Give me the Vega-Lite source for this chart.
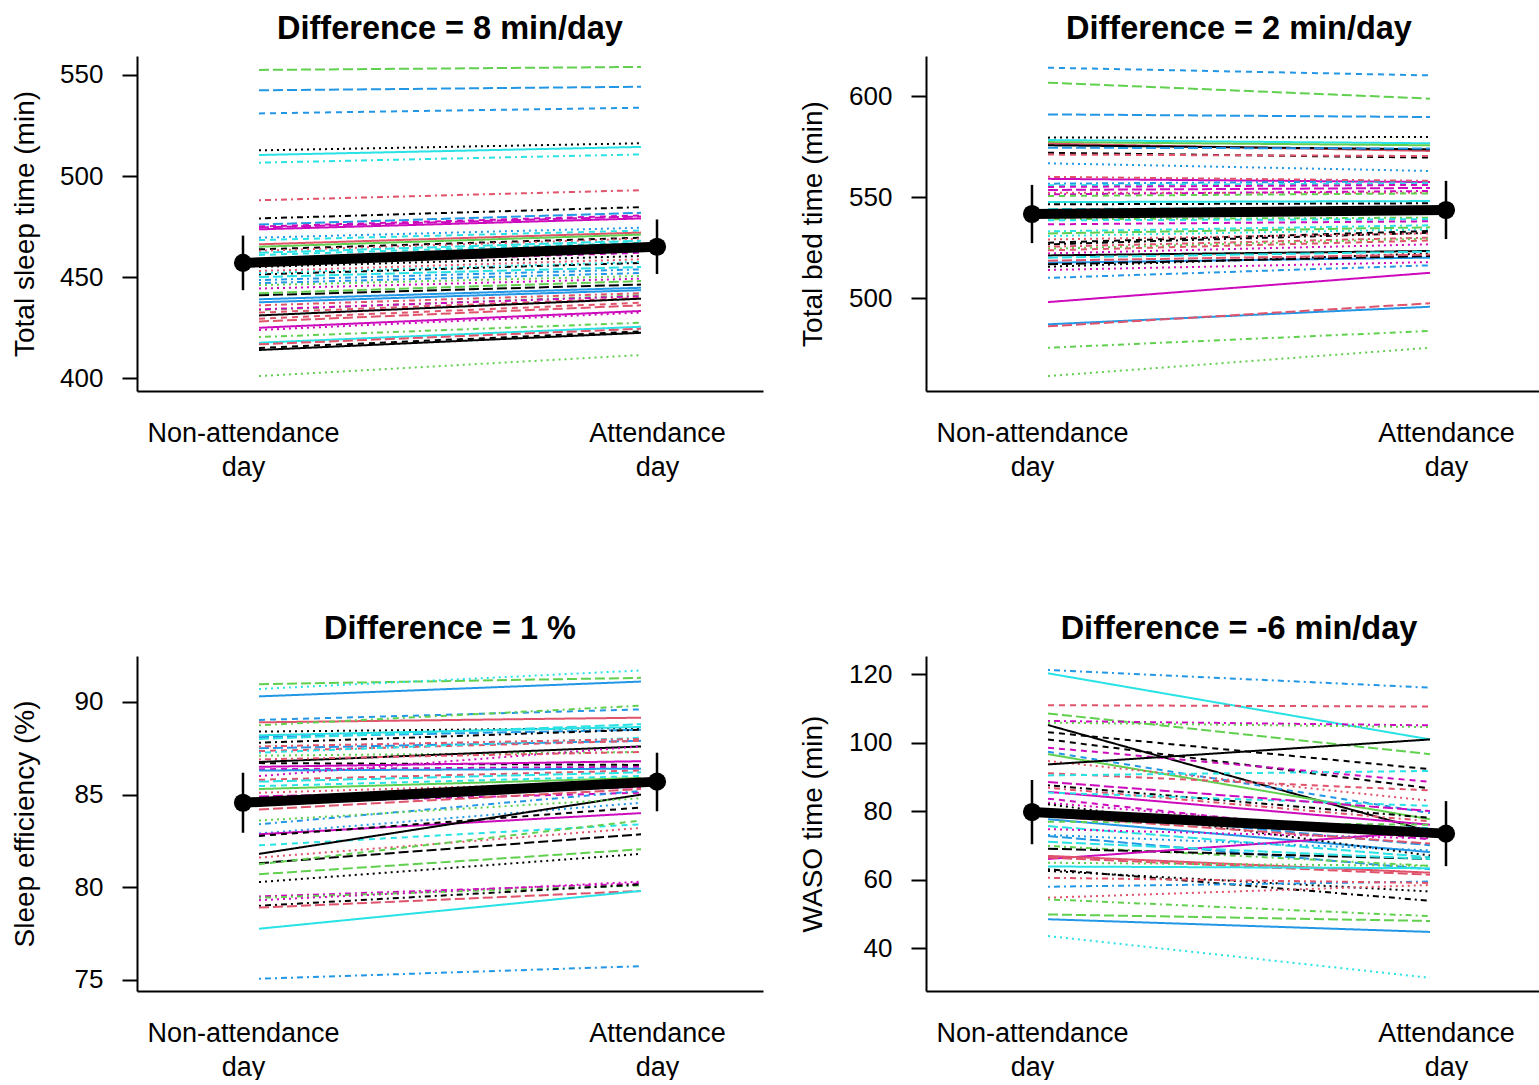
{
"$schema": "https://vega.github.io/schema/vega-lite/v6.json",
"background": "white",
"padding": {"left": 11, "top": 12, "right": 0, "bottom": 0},
"config": {
  "view": {"stroke": null},
  "font": "Liberation Sans",
  "axis": {"grid": false, "labelFont": "Liberation Sans", "titleFont": "Liberation Sans", "labelColor": "black", "titleColor": "black", "domainColor": "black", "tickColor": "black", "labelLimit": 500}
},
"datasets": {
"tst": [
{"s":15,"day":1,"v":552.5},{"s":15,"day":2,"v":554},
{"s":10,"day":1,"v":542.4},{"s":10,"day":2,"v":544.2},
{"s":22,"day":1,"v":531},{"s":22,"day":2,"v":533.8},
{"s":13,"day":1,"v":512.7},{"s":13,"day":2,"v":516.2},
{"s":11,"day":1,"v":510.4},{"s":11,"day":2,"v":514.4},
{"s":29,"day":1,"v":506.6},{"s":29,"day":2,"v":510.7},
{"s":14,"day":1,"v":488},{"s":14,"day":2,"v":493},
{"s":19,"day":1,"v":479},{"s":19,"day":2,"v":484.6},
{"s":40,"day":1,"v":476},{"s":40,"day":2,"v":481.8},
{"s":12,"day":1,"v":475},{"s":12,"day":2,"v":480.5},
{"s":6,"day":1,"v":473.6},{"s":6,"day":2,"v":479},
{"s":28,"day":1,"v":469.5},{"s":28,"day":2,"v":474.4},
{"s":17,"day":1,"v":468.3},{"s":17,"day":2,"v":473},
{"s":26,"day":1,"v":466.2},{"s":26,"day":2,"v":472},
{"s":21,"day":1,"v":465},{"s":21,"day":2,"v":471},
{"s":7,"day":1,"v":463.7},{"s":7,"day":2,"v":469.5},
{"s":8,"day":1,"v":463},{"s":8,"day":2,"v":469},
{"s":47,"day":1,"v":460.9},{"s":47,"day":2,"v":467},
{"s":42,"day":1,"v":456.3},{"s":42,"day":2,"v":462},
{"s":43,"day":1,"v":455},{"s":43,"day":2,"v":460.4},
{"s":38,"day":1,"v":453},{"s":38,"day":2,"v":458.8},
{"s":49,"day":1,"v":451.3},{"s":49,"day":2,"v":457},
{"s":5,"day":1,"v":450},{"s":5,"day":2,"v":455},
{"s":4,"day":1,"v":448.5},{"s":4,"day":2,"v":453.8},
{"s":3,"day":1,"v":446},{"s":3,"day":2,"v":450.5},
{"s":18,"day":1,"v":444.3},{"s":18,"day":2,"v":449.2},
{"s":25,"day":1,"v":441},{"s":25,"day":2,"v":446.3},
{"s":16,"day":1,"v":439},{"s":16,"day":2,"v":444.7},
{"s":9,"day":1,"v":433.7},{"s":9,"day":2,"v":441},
{"s":24,"day":1,"v":434},{"s":24,"day":2,"v":440.5},
{"s":2,"day":1,"v":432.4},{"s":2,"day":2,"v":439.6},
{"s":1,"day":1,"v":431},{"s":1,"day":2,"v":439.3},
{"s":32,"day":1,"v":429.4},{"s":32,"day":2,"v":437.3},
{"s":36,"day":1,"v":424.9},{"s":36,"day":2,"v":433.2},
{"s":48,"day":1,"v":423.8},{"s":48,"day":2,"v":432.4},
{"s":39,"day":1,"v":420.3},{"s":39,"day":2,"v":427.4},
{"s":41,"day":1,"v":417.5},{"s":41,"day":2,"v":425.4},
{"s":20,"day":1,"v":416.7},{"s":20,"day":2,"v":424.4},
{"s":37,"day":1,"v":414.9},{"s":37,"day":2,"v":423.1},
{"s":31,"day":1,"v":413.9},{"s":31,"day":2,"v":422.4},
{"s":33,"day":1,"v":401},{"s":33,"day":2,"v":411.4},
{"s":23,"day":1,"v":452},{"s":23,"day":2,"v":457.5},
{"s":27,"day":1,"v":459},{"s":27,"day":2,"v":465},
{"s":30,"day":1,"v":474.5},{"s":30,"day":2,"v":480},
{"s":34,"day":1,"v":447},{"s":34,"day":2,"v":452},
{"s":35,"day":1,"v":462},{"s":35,"day":2,"v":468},
{"s":44,"day":1,"v":436},{"s":44,"day":2,"v":442},
{"s":45,"day":1,"v":442},{"s":45,"day":2,"v":448},
{"s":46,"day":1,"v":437.5},{"s":46,"day":2,"v":443.5},
{"s":50,"day":1,"v":428},{"s":50,"day":2,"v":436}
],
"tbt": [
{"s":22,"day":1,"v":614},{"s":22,"day":2,"v":610.2},
{"s":15,"day":1,"v":606.6},{"s":15,"day":2,"v":598.7},
{"s":10,"day":1,"v":590.9},{"s":10,"day":2,"v":589.6},
{"s":13,"day":1,"v":579.4},{"s":13,"day":2,"v":579.7},
{"s":11,"day":1,"v":578.2},{"s":11,"day":2,"v":576.6},
{"s":21,"day":1,"v":577.2},{"s":21,"day":2,"v":575.6},
{"s":26,"day":1,"v":576.4},{"s":26,"day":2,"v":572.8},
{"s":1,"day":1,"v":575.6},{"s":1,"day":2,"v":573.6},
{"s":40,"day":1,"v":574.4},{"s":40,"day":2,"v":574},
{"s":7,"day":1,"v":571.9},{"s":7,"day":2,"v":569.5},
{"s":2,"day":1,"v":571},{"s":2,"day":2,"v":570.3},
{"s":28,"day":1,"v":566.7},{"s":28,"day":2,"v":562.9},
{"s":6,"day":1,"v":559},{"s":6,"day":2,"v":557.4},
{"s":4,"day":1,"v":556.6},{"s":4,"day":2,"v":557.9},
{"s":17,"day":1,"v":555.8},{"s":17,"day":2,"v":556.8},
{"s":8,"day":1,"v":552.1},{"s":8,"day":2,"v":552.1},
{"s":24,"day":1,"v":551.3},{"s":24,"day":2,"v":553},
{"s":27,"day":1,"v":550.5},{"s":27,"day":2,"v":551.8},
{"s":19,"day":1,"v":546.4},{"s":19,"day":2,"v":546.9},
{"s":9,"day":1,"v":539},{"s":9,"day":2,"v":539.8},
{"s":47,"day":1,"v":538.5},{"s":47,"day":2,"v":539},
{"s":12,"day":1,"v":536.5},{"s":12,"day":2,"v":538},
{"s":23,"day":1,"v":530.7},{"s":23,"day":2,"v":534},
{"s":37,"day":1,"v":527.4},{"s":37,"day":2,"v":533.2},
{"s":49,"day":1,"v":526.6},{"s":49,"day":2,"v":532.3},
{"s":14,"day":1,"v":525.4},{"s":14,"day":2,"v":529.9},
{"s":3,"day":1,"v":524.4},{"s":3,"day":2,"v":529.4},
{"s":32,"day":1,"v":523.6},{"s":32,"day":2,"v":528.5},
{"s":18,"day":1,"v":522.1},{"s":18,"day":2,"v":526.6},
{"s":31,"day":1,"v":521.1},{"s":31,"day":2,"v":523.3},
{"s":16,"day":1,"v":517.5},{"s":16,"day":2,"v":520},
{"s":25,"day":1,"v":516.7},{"s":25,"day":2,"v":520.8},
{"s":43,"day":1,"v":515.5},{"s":43,"day":2,"v":522.1},
{"s":48,"day":1,"v":513.9},{"s":48,"day":2,"v":517.8},
{"s":34,"day":1,"v":510},{"s":34,"day":2,"v":516.2},
{"s":36,"day":1,"v":498},{"s":36,"day":2,"v":512.5},
{"s":46,"day":1,"v":487},{"s":46,"day":2,"v":495.7},
{"s":20,"day":1,"v":486},{"s":20,"day":2,"v":497.4},
{"s":39,"day":1,"v":475.4},{"s":39,"day":2,"v":483.7},
{"s":33,"day":1,"v":461.4},{"s":33,"day":2,"v":475.4},
{"s":5,"day":1,"v":544},{"s":5,"day":2,"v":545},
{"s":29,"day":1,"v":533},{"s":29,"day":2,"v":536},
{"s":30,"day":1,"v":553.5},{"s":30,"day":2,"v":554.5},
{"s":35,"day":1,"v":520},{"s":35,"day":2,"v":523},
{"s":38,"day":1,"v":529},{"s":38,"day":2,"v":532},
{"s":41,"day":1,"v":547.5},{"s":41,"day":2,"v":548},
{"s":42,"day":1,"v":555},{"s":42,"day":2,"v":556},
{"s":44,"day":1,"v":560},{"s":44,"day":2,"v":558},
{"s":45,"day":1,"v":532},{"s":45,"day":2,"v":535},
{"s":50,"day":1,"v":518.5},{"s":50,"day":2,"v":521.5}
],
"se": [
{"s":15,"day":1,"v":90.96},{"s":15,"day":2,"v":91.3},
{"s":23,"day":1,"v":90.7},{"s":23,"day":2,"v":91.7},
{"s":16,"day":1,"v":90.3},{"s":16,"day":2,"v":91.1},
{"s":22,"day":1,"v":89.03},{"s":22,"day":2,"v":89.6},
{"s":26,"day":1,"v":88.9},{"s":26,"day":2,"v":89.15},
{"s":9,"day":1,"v":88.74},{"s":9,"day":2,"v":89.8},
{"s":13,"day":1,"v":88.4},{"s":13,"day":2,"v":88.6},
{"s":11,"day":1,"v":88.2},{"s":11,"day":2,"v":88.65},
{"s":10,"day":1,"v":88.1},{"s":10,"day":2,"v":88.5},
{"s":19,"day":1,"v":87.8},{"s":19,"day":2,"v":88.5},
{"s":40,"day":1,"v":87.5},{"s":40,"day":2,"v":87.9},
{"s":2,"day":1,"v":87.35},{"s":2,"day":2,"v":87.9},
{"s":29,"day":1,"v":87.26},{"s":29,"day":2,"v":88.07},
{"s":3,"day":1,"v":87.1},{"s":3,"day":2,"v":87.3},
{"s":1,"day":1,"v":86.76},{"s":1,"day":2,"v":87.6},
{"s":7,"day":1,"v":86.7},{"s":7,"day":2,"v":86.6},
{"s":12,"day":1,"v":86.37},{"s":12,"day":2,"v":86.5},
{"s":46,"day":1,"v":86.3},{"s":46,"day":2,"v":86.4},
{"s":18,"day":1,"v":86},{"s":18,"day":2,"v":87.6},
{"s":32,"day":1,"v":85.8},{"s":32,"day":2,"v":86.3},
{"s":17,"day":1,"v":85.46},{"s":17,"day":2,"v":86},
{"s":21,"day":1,"v":85.3},{"s":21,"day":2,"v":85.9},
{"s":8,"day":1,"v":85.1},{"s":8,"day":2,"v":85.7},
{"s":42,"day":1,"v":84.56},{"s":42,"day":2,"v":85.1},
{"s":34,"day":1,"v":83.4},{"s":34,"day":2,"v":85.2},
{"s":28,"day":1,"v":82.9},{"s":28,"day":2,"v":84.56},
{"s":6,"day":1,"v":82.86},{"s":6,"day":2,"v":84},
{"s":37,"day":1,"v":82.77},{"s":37,"day":2,"v":84.3},
{"s":47,"day":1,"v":82.26},{"s":47,"day":2,"v":83.4},
{"s":31,"day":1,"v":81.8},{"s":31,"day":2,"v":85},
{"s":38,"day":1,"v":81.6},{"s":38,"day":2,"v":83.2},
{"s":25,"day":1,"v":81.3},{"s":25,"day":2,"v":82.86},
{"s":27,"day":1,"v":81.24},{"s":27,"day":2,"v":83.6},
{"s":45,"day":1,"v":80.7},{"s":45,"day":2,"v":82.05},
{"s":43,"day":1,"v":80.28},{"s":43,"day":2,"v":81.8},
{"s":24,"day":1,"v":79.5},{"s":24,"day":2,"v":80.2},
{"s":39,"day":1,"v":79.43},{"s":39,"day":2,"v":80.1},
{"s":49,"day":1,"v":79},{"s":49,"day":2,"v":80.15},
{"s":20,"day":1,"v":78.9},{"s":20,"day":2,"v":79.8},
{"s":41,"day":1,"v":77.76},{"s":41,"day":2,"v":79.8},
{"s":4,"day":1,"v":75.06},{"s":4,"day":2,"v":75.74},
{"s":5,"day":1,"v":88},{"s":5,"day":2,"v":88.8},
{"s":14,"day":1,"v":86.9},{"s":14,"day":2,"v":87.3},
{"s":30,"day":1,"v":84.9},{"s":30,"day":2,"v":85.4},
{"s":33,"day":1,"v":83.6},{"s":33,"day":2,"v":84.8},
{"s":35,"day":1,"v":85.7},{"s":35,"day":2,"v":86.2},
{"s":36,"day":1,"v":86.5},{"s":36,"day":2,"v":86.8},
{"s":44,"day":1,"v":87.6},{"s":44,"day":2,"v":88},
{"s":48,"day":1,"v":79.3},{"s":48,"day":2,"v":80.3},
{"s":50,"day":1,"v":84.2},{"s":50,"day":2,"v":85.3}
],
"waso": [
{"s":4,"day":1,"v":121.2},{"s":4,"day":2,"v":116},
{"s":11,"day":1,"v":120.2},{"s":11,"day":2,"v":100.9},
{"s":2,"day":1,"v":110.9},{"s":2,"day":2,"v":110.5},
{"s":15,"day":1,"v":108.5},{"s":15,"day":2,"v":96.6},
{"s":24,"day":1,"v":106.3},{"s":24,"day":2,"v":105},
{"s":3,"day":1,"v":105.8},{"s":3,"day":2,"v":104.5},
{"s":1,"day":1,"v":105.1},{"s":1,"day":2,"v":74},
{"s":7,"day":1,"v":103},{"s":7,"day":2,"v":92.2},
{"s":37,"day":1,"v":100.9},{"s":37,"day":2,"v":86.6},
{"s":12,"day":1,"v":98.5},{"s":12,"day":2,"v":88.5},
{"s":22,"day":1,"v":97.3},{"s":22,"day":2,"v":79.4},
{"s":21,"day":1,"v":96.6},{"s":21,"day":2,"v":77.6},
{"s":8,"day":1,"v":94.6},{"s":8,"day":2,"v":83},
{"s":31,"day":1,"v":93.6},{"s":31,"day":2,"v":100.9},
{"s":32,"day":1,"v":91},{"s":32,"day":2,"v":86},
{"s":17,"day":1,"v":90.4},{"s":17,"day":2,"v":91.7},
{"s":19,"day":1,"v":87.5},{"s":19,"day":2,"v":78},
{"s":14,"day":1,"v":86.8},{"s":14,"day":2,"v":77},
{"s":6,"day":1,"v":85.6},{"s":6,"day":2,"v":76},
{"s":47,"day":1,"v":85.4},{"s":47,"day":2,"v":81.5},
{"s":42,"day":1,"v":83.6},{"s":42,"day":2,"v":71.7},
{"s":48,"day":1,"v":82.4},{"s":48,"day":2,"v":73},
{"s":16,"day":1,"v":77.6},{"s":16,"day":2,"v":68},
{"s":27,"day":1,"v":76.9},{"s":27,"day":2,"v":76},
{"s":5,"day":1,"v":75.6},{"s":5,"day":2,"v":66.5},
{"s":18,"day":1,"v":74.7},{"s":18,"day":2,"v":72},
{"s":40,"day":1,"v":72.7},{"s":40,"day":2,"v":63},
{"s":9,"day":1,"v":69.8},{"s":9,"day":2,"v":64},
{"s":25,"day":1,"v":69},{"s":25,"day":2,"v":66},
{"s":36,"day":1,"v":66},{"s":36,"day":2,"v":74},
{"s":26,"day":1,"v":66.9},{"s":26,"day":2,"v":62},
{"s":20,"day":1,"v":66.4},{"s":20,"day":2,"v":61.4},
{"s":33,"day":1,"v":64.9},{"s":33,"day":2,"v":64},
{"s":41,"day":1,"v":63.8},{"s":41,"day":2,"v":63.3},
{"s":49,"day":1,"v":63},{"s":49,"day":2,"v":53.8},
{"s":13,"day":1,"v":62.5},{"s":13,"day":2,"v":56.5},
{"s":34,"day":1,"v":57.9},{"s":34,"day":2,"v":59.4},
{"s":38,"day":1,"v":54.7},{"s":38,"day":2,"v":58.4},
{"s":39,"day":1,"v":54.2},{"s":39,"day":2,"v":49.3},
{"s":45,"day":1,"v":49.8},{"s":45,"day":2,"v":47.9},
{"s":46,"day":1,"v":48.4},{"s":46,"day":2,"v":44.7},
{"s":23,"day":1,"v":43.5},{"s":23,"day":2,"v":31.3},
{"s":10,"day":1,"v":80.5},{"s":10,"day":2,"v":70},
{"s":28,"day":1,"v":73},{"s":28,"day":2,"v":68.5},
{"s":29,"day":1,"v":79},{"s":29,"day":2,"v":75},
{"s":30,"day":1,"v":88.5},{"s":30,"day":2,"v":80},
{"s":35,"day":1,"v":71},{"s":35,"day":2,"v":66},
{"s":43,"day":1,"v":82},{"s":43,"day":2,"v":67},
{"s":44,"day":1,"v":60.5},{"s":44,"day":2,"v":59},
{"s":50,"day":1,"v":78.5},{"s":50,"day":2,"v":70.5}
],
"m_tst": [{"day":1,"v":457,"lo":443.5,"hi":470.5},{"day":2,"v":465,"lo":451.5,"hi":478.5}],
"m_tbt": [{"day":1,"v":541.6,"lo":527.2,"hi":556},{"day":2,"v":543.6,"lo":529.2,"hi":558}],
"m_se": [{"day":1,"v":84.56,"lo":82.94,"hi":86.18},{"day":2,"v":85.7,"lo":84.1,"hi":87.26}],
"m_waso": [{"day":1,"v":79.7,"lo":70.3,"hi":89.05},{"day":2,"v":73.4,"lo":63.9,"hi":82.9}]
},
"spacing": 600,
"bounds": "flush",
"vconcat": [
{"spacing": 163, "bounds": "flush", "hconcat": [
 {"width": 626, "height": 335,
  "title": {"text": "Difference = 8 min/day", "fontSize": 32.5, "fontWeight": "bold", "font": "Liberation Sans", "anchor": "middle", "frame": "group", "baseline": "alphabetic", "offset": -15, "color": "black"},
  "layer": [
   {"data": {"name": "tst"}, "mark": {"type": "line", "strokeWidth": 2, "strokeCap": "butt"},
    "encoding": {
     "x": {"field": "day", "type": "quantitative", "scale": {"domain": [0.6806, 2.3194], "nice": false, "zero": false}, "axis": null},
     "y": {"field": "v", "type": "quantitative", "title": "Total sleep time (min)", "scale": {"domain": [393.6, 559.4], "nice": false, "zero": false},
           "axis": {"values": [400, 450, 500, 550], "tickSize": 15, "tickWidth": 2, "domainWidth": 2, "labelFontSize": 26, "labelPadding": 19, "labelBaseline": "middle", "titleFontSize": 28, "titleFontWeight": "normal", "titleX": -112, "titleY": 167.5, "titleBaseline": "middle", "titleAngle": 270}},
     "color": {"field": "s", "type": "nominal", "legend": null, "scale": {"domain": [1,2,3,4,5,6,7,8,9,10,11,12,13,14,15,16,17,18,19,20,21,22,23,24,25,26,27,28,29,30,31,32,33,34,35,36,37,38,39,40,41,42,43,44,45,46,47,48,49,50], "range": ["#000000","#DF536B","#61D04F","#2297E6","#28E2E5","#CD0BBC","#000000","#DF536B","#61D04F","#2297E6","#28E2E5","#CD0BBC","#000000","#DF536B","#61D04F","#2297E6","#28E2E5","#CD0BBC","#000000","#DF536B","#61D04F","#2297E6","#28E2E5","#CD0BBC","#000000","#DF536B","#61D04F","#2297E6","#28E2E5","#CD0BBC","#000000","#DF536B","#61D04F","#2297E6","#28E2E5","#CD0BBC","#000000","#DF536B","#61D04F","#2297E6","#28E2E5","#CD0BBC","#000000","#DF536B","#61D04F","#2297E6","#28E2E5","#CD0BBC","#000000","#DF536B"]}},
     "strokeDash": {"field": "s", "type": "nominal", "legend": null, "scale": {"domain": [1,2,3,4,5,6,7,8,9,10,11,12,13,14,15,16,17,18,19,20,21,22,23,24,25,26,27,28,29,30,31,32,33,34,35,36,37,38,39,40,41,42,43,44,45,46,47,48,49,50], "range": [[1,0],[6,5],[2,4],[2,4,6,4],[10,4],[1,0],[6,5],[2,4],[2,4,6,4],[10,4],[1,0],[6,5],[2,4],[2,4,6,4],[10,4],[1,0],[6,5],[2,4],[2,4,6,4],[10,4],[1,0],[6,5],[2,4],[2,4,6,4],[10,4],[1,0],[6,5],[2,4],[2,4,6,4],[10,4],[1,0],[6,5],[2,4],[2,4,6,4],[10,4],[1,0],[6,5],[2,4],[2,4,6,4],[10,4],[1,0],[6,5],[2,4],[2,4,6,4],[10,4],[1,0],[6,5],[2,4],[2,4,6,4],[10,4]]}}
    }},
   {"data": {"name": "m_tst"},
    "encoding": {"x": {"field": "day", "type": "quantitative", "scale": {"domain": [0.744, 2.256], "nice": false, "zero": false},
       "axis": {"values": [1, 2], "labelExpr": "datum.value == 1 ? ['Non-attendance', 'day'] : ['Attendance', 'day']", "ticks": false, "tickSize": 0, "title": null, "domainWidth": 2, "labelFontSize": 27, "labelPadding": 29, "labelLineHeight": 34, "labelBaseline": "top", "labelFlush": false, "labelOverlap": false}}},
    "layer": [
     {"mark": {"type": "line", "color": "black", "strokeWidth": 10}, "encoding": {"y": {"field": "v", "type": "quantitative", "title": "Total sleep time (min)", "scale": {"domain": [393.6, 559.4], "nice": false, "zero": false}}}},
     {"mark": {"type": "rule", "color": "black", "strokeWidth": 2.5}, "encoding": {"y": {"field": "lo", "type": "quantitative", "title": "Total sleep time (min)", "scale": {"domain": [393.6, 559.4], "nice": false, "zero": false}}, "y2": {"field": "hi"}}},
     {"mark": {"type": "point", "shape": "circle", "filled": true, "color": "black", "opacity": 1, "size": 330}, "encoding": {"y": {"field": "v", "type": "quantitative", "title": "Total sleep time (min)", "scale": {"domain": [393.6, 559.4], "nice": false, "zero": false}}}}
    ]}
  ],
  "resolve": {"scale": {"x": "independent"}}
 },
 {"width": 626, "height": 335,
  "title": {"text": "Difference = 2 min/day", "fontSize": 32.5, "fontWeight": "bold", "font": "Liberation Sans", "anchor": "middle", "frame": "group", "baseline": "alphabetic", "offset": -15, "color": "black"},
  "layer": [
   {"data": {"name": "tbt"}, "mark": {"type": "line", "strokeWidth": 2, "strokeCap": "butt"},
    "encoding": {
     "x": {"field": "day", "type": "quantitative", "scale": {"domain": [0.6806, 2.3194], "nice": false, "zero": false}, "axis": null},
     "y": {"field": "v", "type": "quantitative", "title": "Total bed time (min)", "scale": {"domain": [454, 619.8], "nice": false, "zero": false},
           "axis": {"values": [500, 550, 600], "tickSize": 15, "tickWidth": 2, "domainWidth": 2, "labelFontSize": 26, "labelPadding": 19, "labelBaseline": "middle", "titleFontSize": 28, "titleFontWeight": "normal", "titleX": -113, "titleY": 167.5, "titleBaseline": "middle", "titleAngle": 270}},
     "color": {"field": "s", "type": "nominal", "legend": null, "scale": {"domain": [1,2,3,4,5,6,7,8,9,10,11,12,13,14,15,16,17,18,19,20,21,22,23,24,25,26,27,28,29,30,31,32,33,34,35,36,37,38,39,40,41,42,43,44,45,46,47,48,49,50], "range": ["#000000","#DF536B","#61D04F","#2297E6","#28E2E5","#CD0BBC","#000000","#DF536B","#61D04F","#2297E6","#28E2E5","#CD0BBC","#000000","#DF536B","#61D04F","#2297E6","#28E2E5","#CD0BBC","#000000","#DF536B","#61D04F","#2297E6","#28E2E5","#CD0BBC","#000000","#DF536B","#61D04F","#2297E6","#28E2E5","#CD0BBC","#000000","#DF536B","#61D04F","#2297E6","#28E2E5","#CD0BBC","#000000","#DF536B","#61D04F","#2297E6","#28E2E5","#CD0BBC","#000000","#DF536B","#61D04F","#2297E6","#28E2E5","#CD0BBC","#000000","#DF536B"]}},
     "strokeDash": {"field": "s", "type": "nominal", "legend": null, "scale": {"domain": [1,2,3,4,5,6,7,8,9,10,11,12,13,14,15,16,17,18,19,20,21,22,23,24,25,26,27,28,29,30,31,32,33,34,35,36,37,38,39,40,41,42,43,44,45,46,47,48,49,50], "range": [[1,0],[6,5],[2,4],[2,4,6,4],[10,4],[1,0],[6,5],[2,4],[2,4,6,4],[10,4],[1,0],[6,5],[2,4],[2,4,6,4],[10,4],[1,0],[6,5],[2,4],[2,4,6,4],[10,4],[1,0],[6,5],[2,4],[2,4,6,4],[10,4],[1,0],[6,5],[2,4],[2,4,6,4],[10,4],[1,0],[6,5],[2,4],[2,4,6,4],[10,4],[1,0],[6,5],[2,4],[2,4,6,4],[10,4],[1,0],[6,5],[2,4],[2,4,6,4],[10,4],[1,0],[6,5],[2,4],[2,4,6,4],[10,4]]}}
    }},
   {"data": {"name": "m_tbt"},
    "encoding": {"x": {"field": "day", "type": "quantitative", "scale": {"domain": [0.744, 2.256], "nice": false, "zero": false},
       "axis": {"values": [1, 2], "labelExpr": "datum.value == 1 ? ['Non-attendance', 'day'] : ['Attendance', 'day']", "ticks": false, "tickSize": 0, "title": null, "domainWidth": 2, "labelFontSize": 27, "labelPadding": 29, "labelLineHeight": 34, "labelBaseline": "top", "labelFlush": false, "labelOverlap": false}}},
    "layer": [
     {"mark": {"type": "line", "color": "black", "strokeWidth": 10}, "encoding": {"y": {"field": "v", "type": "quantitative", "title": "Total bed time (min)", "scale": {"domain": [454, 619.8], "nice": false, "zero": false}}}},
     {"mark": {"type": "rule", "color": "black", "strokeWidth": 2.5}, "encoding": {"y": {"field": "lo", "type": "quantitative", "title": "Total bed time (min)", "scale": {"domain": [454, 619.8], "nice": false, "zero": false}}, "y2": {"field": "hi"}}},
     {"mark": {"type": "point", "shape": "circle", "filled": true, "color": "black", "opacity": 1, "size": 330}, "encoding": {"y": {"field": "v", "type": "quantitative", "title": "Total bed time (min)", "scale": {"domain": [454, 619.8], "nice": false, "zero": false}}}}
    ]}
  ],
  "resolve": {"scale": {"x": "independent"}}
 }
]},
{"spacing": 163, "bounds": "flush", "hconcat": [
 {"width": 626, "height": 335,
  "title": {"text": "Difference = 1 %", "fontSize": 32.5, "fontWeight": "bold", "font": "Liberation Sans", "anchor": "middle", "frame": "group", "baseline": "alphabetic", "offset": -15, "color": "black"},
  "layer": [
   {"data": {"name": "se"}, "mark": {"type": "line", "strokeWidth": 2, "strokeCap": "butt"},
    "encoding": {
     "x": {"field": "day", "type": "quantitative", "scale": {"domain": [0.6806, 2.3194], "nice": false, "zero": false}, "axis": null},
     "y": {"field": "v", "type": "quantitative", "title": "Sleep efficiency (%)", "scale": {"domain": [74.4, 92.48], "nice": false, "zero": false},
           "axis": {"values": [75, 80, 85, 90], "tickSize": 15, "tickWidth": 2, "domainWidth": 2, "labelFontSize": 26, "labelPadding": 19, "labelBaseline": "middle", "titleFontSize": 28, "titleFontWeight": "normal", "titleX": -112, "titleY": 167.5, "titleBaseline": "middle", "titleAngle": 270}},
     "color": {"field": "s", "type": "nominal", "legend": null, "scale": {"domain": [1,2,3,4,5,6,7,8,9,10,11,12,13,14,15,16,17,18,19,20,21,22,23,24,25,26,27,28,29,30,31,32,33,34,35,36,37,38,39,40,41,42,43,44,45,46,47,48,49,50], "range": ["#000000","#DF536B","#61D04F","#2297E6","#28E2E5","#CD0BBC","#000000","#DF536B","#61D04F","#2297E6","#28E2E5","#CD0BBC","#000000","#DF536B","#61D04F","#2297E6","#28E2E5","#CD0BBC","#000000","#DF536B","#61D04F","#2297E6","#28E2E5","#CD0BBC","#000000","#DF536B","#61D04F","#2297E6","#28E2E5","#CD0BBC","#000000","#DF536B","#61D04F","#2297E6","#28E2E5","#CD0BBC","#000000","#DF536B","#61D04F","#2297E6","#28E2E5","#CD0BBC","#000000","#DF536B","#61D04F","#2297E6","#28E2E5","#CD0BBC","#000000","#DF536B"]}},
     "strokeDash": {"field": "s", "type": "nominal", "legend": null, "scale": {"domain": [1,2,3,4,5,6,7,8,9,10,11,12,13,14,15,16,17,18,19,20,21,22,23,24,25,26,27,28,29,30,31,32,33,34,35,36,37,38,39,40,41,42,43,44,45,46,47,48,49,50], "range": [[1,0],[6,5],[2,4],[2,4,6,4],[10,4],[1,0],[6,5],[2,4],[2,4,6,4],[10,4],[1,0],[6,5],[2,4],[2,4,6,4],[10,4],[1,0],[6,5],[2,4],[2,4,6,4],[10,4],[1,0],[6,5],[2,4],[2,4,6,4],[10,4],[1,0],[6,5],[2,4],[2,4,6,4],[10,4],[1,0],[6,5],[2,4],[2,4,6,4],[10,4],[1,0],[6,5],[2,4],[2,4,6,4],[10,4],[1,0],[6,5],[2,4],[2,4,6,4],[10,4],[1,0],[6,5],[2,4],[2,4,6,4],[10,4]]}}
    }},
   {"data": {"name": "m_se"},
    "encoding": {"x": {"field": "day", "type": "quantitative", "scale": {"domain": [0.744, 2.256], "nice": false, "zero": false},
       "axis": {"values": [1, 2], "labelExpr": "datum.value == 1 ? ['Non-attendance', 'day'] : ['Attendance', 'day']", "ticks": false, "tickSize": 0, "title": null, "domainWidth": 2, "labelFontSize": 27, "labelPadding": 29, "labelLineHeight": 34, "labelBaseline": "top", "labelFlush": false, "labelOverlap": false}}},
    "layer": [
     {"mark": {"type": "line", "color": "black", "strokeWidth": 10}, "encoding": {"y": {"field": "v", "type": "quantitative", "title": "Sleep efficiency (%)", "scale": {"domain": [74.4, 92.48], "nice": false, "zero": false}}}},
     {"mark": {"type": "rule", "color": "black", "strokeWidth": 2.5}, "encoding": {"y": {"field": "lo", "type": "quantitative", "title": "Sleep efficiency (%)", "scale": {"domain": [74.4, 92.48], "nice": false, "zero": false}}, "y2": {"field": "hi"}}},
     {"mark": {"type": "point", "shape": "circle", "filled": true, "color": "black", "opacity": 1, "size": 330}, "encoding": {"y": {"field": "v", "type": "quantitative", "title": "Sleep efficiency (%)", "scale": {"domain": [74.4, 92.48], "nice": false, "zero": false}}}}
    ]}
  ],
  "resolve": {"scale": {"x": "independent"}}
 },
 {"width": 626, "height": 335,
  "title": {"text": "Difference = -6 min/day", "fontSize": 32.5, "fontWeight": "bold", "font": "Liberation Sans", "anchor": "middle", "frame": "group", "baseline": "alphabetic", "offset": -15, "color": "black"},
  "layer": [
   {"data": {"name": "waso"}, "mark": {"type": "line", "strokeWidth": 2, "strokeCap": "butt"},
    "encoding": {
     "x": {"field": "day", "type": "quantitative", "scale": {"domain": [0.6806, 2.3194], "nice": false, "zero": false}, "axis": null},
     "y": {"field": "v", "type": "quantitative", "title": "WASO time (min)", "scale": {"domain": [27.45, 125.26], "nice": false, "zero": false},
           "axis": {"values": [40, 60, 80, 100, 120], "tickSize": 15, "tickWidth": 2, "domainWidth": 2, "labelFontSize": 26, "labelPadding": 19, "labelBaseline": "middle", "titleFontSize": 28, "titleFontWeight": "normal", "titleX": -113, "titleY": 167.5, "titleBaseline": "middle", "titleAngle": 270}},
     "color": {"field": "s", "type": "nominal", "legend": null, "scale": {"domain": [1,2,3,4,5,6,7,8,9,10,11,12,13,14,15,16,17,18,19,20,21,22,23,24,25,26,27,28,29,30,31,32,33,34,35,36,37,38,39,40,41,42,43,44,45,46,47,48,49,50], "range": ["#000000","#DF536B","#61D04F","#2297E6","#28E2E5","#CD0BBC","#000000","#DF536B","#61D04F","#2297E6","#28E2E5","#CD0BBC","#000000","#DF536B","#61D04F","#2297E6","#28E2E5","#CD0BBC","#000000","#DF536B","#61D04F","#2297E6","#28E2E5","#CD0BBC","#000000","#DF536B","#61D04F","#2297E6","#28E2E5","#CD0BBC","#000000","#DF536B","#61D04F","#2297E6","#28E2E5","#CD0BBC","#000000","#DF536B","#61D04F","#2297E6","#28E2E5","#CD0BBC","#000000","#DF536B","#61D04F","#2297E6","#28E2E5","#CD0BBC","#000000","#DF536B"]}},
     "strokeDash": {"field": "s", "type": "nominal", "legend": null, "scale": {"domain": [1,2,3,4,5,6,7,8,9,10,11,12,13,14,15,16,17,18,19,20,21,22,23,24,25,26,27,28,29,30,31,32,33,34,35,36,37,38,39,40,41,42,43,44,45,46,47,48,49,50], "range": [[1,0],[6,5],[2,4],[2,4,6,4],[10,4],[1,0],[6,5],[2,4],[2,4,6,4],[10,4],[1,0],[6,5],[2,4],[2,4,6,4],[10,4],[1,0],[6,5],[2,4],[2,4,6,4],[10,4],[1,0],[6,5],[2,4],[2,4,6,4],[10,4],[1,0],[6,5],[2,4],[2,4,6,4],[10,4],[1,0],[6,5],[2,4],[2,4,6,4],[10,4],[1,0],[6,5],[2,4],[2,4,6,4],[10,4],[1,0],[6,5],[2,4],[2,4,6,4],[10,4],[1,0],[6,5],[2,4],[2,4,6,4],[10,4]]}}
    }},
   {"data": {"name": "m_waso"},
    "encoding": {"x": {"field": "day", "type": "quantitative", "scale": {"domain": [0.744, 2.256], "nice": false, "zero": false},
       "axis": {"values": [1, 2], "labelExpr": "datum.value == 1 ? ['Non-attendance', 'day'] : ['Attendance', 'day']", "ticks": false, "tickSize": 0, "title": null, "domainWidth": 2, "labelFontSize": 27, "labelPadding": 29, "labelLineHeight": 34, "labelBaseline": "top", "labelFlush": false, "labelOverlap": false}}},
    "layer": [
     {"mark": {"type": "line", "color": "black", "strokeWidth": 10}, "encoding": {"y": {"field": "v", "type": "quantitative", "title": "WASO time (min)", "scale": {"domain": [27.45, 125.26], "nice": false, "zero": false}}}},
     {"mark": {"type": "rule", "color": "black", "strokeWidth": 2.5}, "encoding": {"y": {"field": "lo", "type": "quantitative", "title": "WASO time (min)", "scale": {"domain": [27.45, 125.26], "nice": false, "zero": false}}, "y2": {"field": "hi"}}},
     {"mark": {"type": "point", "shape": "circle", "filled": true, "color": "black", "opacity": 1, "size": 330}, "encoding": {"y": {"field": "v", "type": "quantitative", "title": "WASO time (min)", "scale": {"domain": [27.45, 125.26], "nice": false, "zero": false}}}}
    ]}
  ],
  "resolve": {"scale": {"x": "independent"}}
 }
]}
]
}
